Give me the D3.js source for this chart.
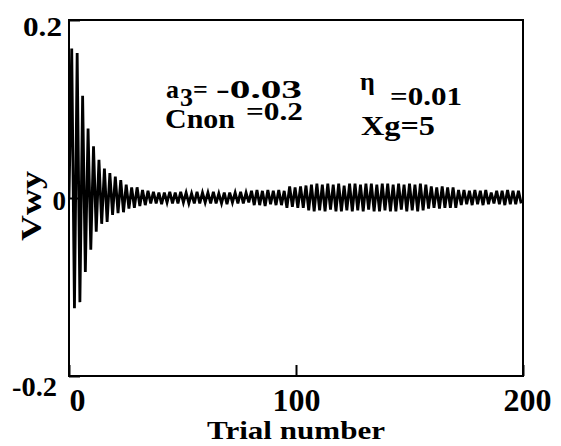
<!DOCTYPE html>
<html>
<head>
<meta charset="utf-8">
<script src="https://cdn.jsdelivr.net/npm/d3@7"></script>
<style>
  body { margin: 0; background: #fff; }
  svg { display: block; }
</style>
</head>
<body>
<div id="chart"></div>
<script>
// Vwy sampled every 1.2 trials (one value per extreme of the oscillation)
const trialStep = 1.2;
const vwyValues = [
  0, 0.168, -0.124, 0.163, -0.117, 0.115, -0.083, 0.078, -0.058, 0.058,
  -0.038, 0.043, -0.029, 0.033, -0.027, 0.028, -0.019, 0.024, -0.017, 0.020,
  -0.016, 0.015, -0.012, 0.012, -0.011, 0.012, -0.009, 0.009, -0.008, 0.008,
  -0.006, 0.007, -0.006, 0.006, -0.007, 0.006, -0.005, 0.007, -0.006, 0.006,
  -0.006, 0.007, -0.005, 0.006, -0.006, 0.005, -0.006, 0.007, -0.006, 0.006,
  -0.005, 0.006, -0.006, 0.007, -0.006, 0.005, -0.006, 0.006, -0.007, 0.006,
  -0.005, 0.006, -0.006, 0.007, -0.006, 0.006, -0.005, 0.008, -0.008, 0.009,
  -0.008, 0.008, -0.009, 0.009, -0.007, 0.008, -0.008, 0.009, -0.008, 0.008,
  -0.011, 0.013, -0.010, 0.012, -0.011, 0.013, -0.011, 0.014, -0.014, 0.015,
  -0.015, 0.016, -0.014, 0.015, -0.015, 0.016, -0.013, 0.015, -0.015, 0.016,
  -0.015, 0.014, -0.014, 0.016, -0.015, 0.016, -0.014, 0.015, -0.015, 0.016,
  -0.013, 0.016, -0.015, 0.015, -0.015, 0.016, -0.014, 0.016, -0.015, 0.015,
  -0.015, 0.016, -0.013, 0.015, -0.015, 0.016, -0.014, 0.015, -0.015, 0.016,
  -0.014, 0.015, -0.012, 0.013, -0.011, 0.012, -0.012, 0.013, -0.011, 0.012,
  -0.011, 0.012, -0.011, 0.009, -0.008, 0.009, -0.007, 0.008, -0.008, 0.009,
  -0.007, 0.008, -0.008, 0.009, -0.007, 0.006, -0.006, 0.008, -0.007, 0.008,
  -0.008, 0.009, -0.007, 0.008, -0.007, 0.008, -0.006
];

const xTicks = [0, 100, 200];
const yTicks = [-0.2, 0, 0.2];
const yTickLabels = ["-0.2", "0", "0.2"];

const width = 561, height = 446;
const margin = { top: 20, right: 38, bottom: 70, left: 69 };
const innerWidth = width - margin.left - margin.right;
const innerHeight = height - margin.top - margin.bottom;
const serif = "'Liberation Serif', serif";

const svg = d3.select("#chart")
  .append("svg")
    .attr("width", width)
    .attr("height", height)
    .style("font-family", serif)
    .style("font-weight", "bold");

const g = svg.append("g")
    .attr("transform", `translate(${margin.left}, ${margin.top})`);

const xScale = d3.scaleLinear().domain([0, 200]).range([0, innerWidth]);
const yScale = d3.scaleLinear().domain([-0.2, 0.2]).range([innerHeight, 0]);

// keep the trace inside the frame
g.append("clipPath").attr("id", "plot-clip")
  .append("rect").attr("width", innerWidth).attr("height", innerHeight);

const line = d3.line()
  .x((d, i) => xScale(i * trialStep))
  .y(d => yScale(d));

g.append("path")
    .datum(vwyValues)
    .attr("clip-path", "url(#plot-clip)")
    .attr("fill", "none")
    .attr("stroke", "#000")
    .attr("stroke-width", 2.8)
    .attr("d", line);

// x axis, ticks point inward
const xAxis = g.append("g")
    .attr("transform", `translate(0, ${innerHeight})`)
    .call(d3.axisBottom(xScale).tickValues(xTicks).tickSize(-11).tickPadding(12).tickFormat(d3.format("d")));
xAxis.select(".domain").remove();
xAxis.selectAll(".tick line").attr("stroke", "#000").attr("stroke-width", 2);
xAxis.selectAll(".tick text")
    .attr("text-anchor", d => d === 0 ? "start" : "middle")
    .attr("dx", d => d === 200 ? 4 : 0)
    .style("font-family", serif)
    .style("font-size", "32px");

// y axis
const yAxis = g.append("g")
    .call(d3.axisLeft(yScale).tickValues(yTicks).tickSize(-11).tickFormat((d, i) => yTickLabels[i]));
yAxis.select(".domain").remove();
yAxis.selectAll(".tick line").attr("stroke", "#000").attr("stroke-width", 2);
yAxis.selectAll(".tick text")
    .attr("dy", 0)
    .attr("x", d => d === 0 ? -3 : (d > 0 ? -7 : -12))
    .attr("y", d => d === 0 ? 11 : (d > 0 ? 15 : 19))
    .attr("textLength", d => d === 0 ? null : (d > 0 ? 39 : 45))
    .attr("lengthAdjust", "spacingAndGlyphs")
    .style("font-family", serif)
    .style("font-size", "27px");

// frame
g.append("rect")
    .attr("width", innerWidth)
    .attr("height", innerHeight)
    .attr("fill", "none")
    .attr("stroke", "#000")
    .attr("stroke-width", 2);

// axis titles
svg.append("text")
    .text("Trial number")
    .attr("x", margin.left + innerWidth / 2)
    .attr("y", 439)
    .attr("text-anchor", "middle")
    .attr("textLength", 178)
    .attr("lengthAdjust", "spacingAndGlyphs")
    .style("font-size", "26px");

svg.append("text")
    .text("Vwy")
    .attr("transform", "translate(41, 206) rotate(-90)")
    .attr("text-anchor", "middle")
    .attr("textLength", 70)
    .attr("lengthAdjust", "spacingAndGlyphs")
    .style("font-size", "30px");

// parameter annotations
const notes = [
  { t: "a", x: 166, y: 98, size: 26 },
  { t: "3", x: 180, y: 106, size: 25, len: 13 },
  { t: "=", x: 193, y: 98, size: 26 },
  { t: "-0.03", x: 216, y: 98, size: 26, len: 86 },
  { t: "Cnon", x: 165, y: 128, size: 27, len: 70 },
  { t: "=0.2", x: 246, y: 120, size: 26, len: 57 },
  { t: "η", x: 360, y: 90, size: 26 },
  { t: "=0.01", x: 390, y: 105, size: 26, len: 72 },
  { t: "Xg=5", x: 361, y: 135, size: 27, len: 74 }
];
svg.selectAll(".note")
  .data(notes)
  .join("text")
    .attr("class", "note")
    .text(d => d.t)
    .attr("x", d => d.x)
    .attr("y", d => d.y)
    .attr("textLength", d => d.len || null)
    .attr("lengthAdjust", "spacingAndGlyphs")
    .style("font-size", d => d.size + "px");
</script>
</body>
</html>
